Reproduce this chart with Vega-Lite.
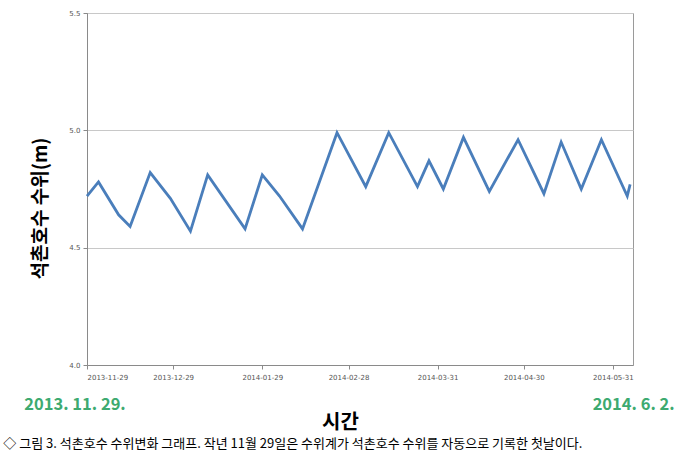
{
  "$schema": "https://vega.github.io/schema/vega-lite/v6.json",
  "width": 546,
  "height": 352,
  "autosize": "none",
  "padding": {"left": 87, "top": 13, "right": 47, "bottom": 94},
  "background": "white",
  "config": {
    "font": "Noto Sans CJK KR",
    "view": {"stroke": "#9a9a9a", "strokeWidth": 1}
  },
  "title": {
    "text": "◇ 그림 3. 석촌호수 수위변화 그래프. 작년 11월 29일은 수위계가 석촌호수 수위를 자동으로 기록한 첫날이다.",
    "orient": "bottom",
    "anchor": "start",
    "frame": "bounds",
    "fontSize": 13,
    "fontWeight": "normal",
    "color": "#000000",
    "font": "Noto Sans CJK KR",
    "offset": 6,
    "dx": -21
  },
  "layer": [
    {
      "data": {
        "values": [
          {"date": "2013-11-29", "level": 4.72},
          {"date": "2013-12-03", "level": 4.78},
          {"date": "2013-12-10", "level": 4.64},
          {"date": "2013-12-14", "level": 4.59},
          {"date": "2013-12-21", "level": 4.82},
          {"date": "2013-12-28", "level": 4.71},
          {"date": "2014-01-04", "level": 4.57},
          {"date": "2014-01-10", "level": 4.81},
          {"date": "2014-01-23", "level": 4.58},
          {"date": "2014-01-29", "level": 4.81},
          {"date": "2014-02-04", "level": 4.72},
          {"date": "2014-02-12", "level": 4.58},
          {"date": "2014-02-24", "level": 4.99},
          {"date": "2014-03-06", "level": 4.76},
          {"date": "2014-03-14", "level": 4.99},
          {"date": "2014-03-24", "level": 4.76},
          {"date": "2014-03-28", "level": 4.87},
          {"date": "2014-04-02", "level": 4.75},
          {"date": "2014-04-09", "level": 4.97},
          {"date": "2014-04-18", "level": 4.74},
          {"date": "2014-04-28", "level": 4.96},
          {"date": "2014-05-07", "level": 4.73},
          {"date": "2014-05-13", "level": 4.95},
          {"date": "2014-05-20", "level": 4.75},
          {"date": "2014-05-27", "level": 4.96},
          {"date": "2014-06-05", "level": 4.72},
          {"date": "2014-06-06", "level": 4.77}
        ]
      },
      "mark": {"type": "line", "color": "#4A7EBB", "strokeWidth": 2.8},
      "encoding": {
        "x": {
          "field": "date",
          "type": "temporal",
          "scale": {
            "type": "utc",
            "domain": [
              {"year": 2013, "month": 11, "date": 29, "utc": true},
              {"year": 2014, "month": 6, "date": 7, "utc": true}
            ]
          },
          "axis": {
            "values": [
              {"year": 2013, "month": 11, "date": 29, "utc": true},
              {"year": 2013, "month": 12, "date": 29, "utc": true},
              {"year": 2014, "month": 1, "date": 29, "utc": true},
              {"year": 2014, "month": 2, "date": 28, "utc": true},
              {"year": 2014, "month": 3, "date": 31, "utc": true},
              {"year": 2014, "month": 4, "date": 30, "utc": true},
              {"year": 2014, "month": 5, "date": 31, "utc": true}
            ],
            "labelExpr": "utcFormat(datum.value, '%Y-%m-%d')",
            "grid": false,
            "domainColor": "#8a8a8a",
            "tickColor": "#8a8a8a",
            "tickSize": 4,
            "labelFontSize": 7,
            "labelColor": "#555555",
            "labelPadding": 4,
            "labelFont": "DejaVu Sans",
            "title": "시간",
            "titleFontSize": 20,
            "titleFontWeight": "bold",
            "titleColor": "#000000",
            "titleX": 253,
            "titleY": 57,
            "titleAlign": "center",
            "titleBaseline": "middle"
          }
        },
        "y": {
          "field": "level",
          "type": "quantitative",
          "scale": {"domain": [4.0, 5.5], "zero": false, "nice": false},
          "axis": {
            "values": [4.0, 4.5, 5.0, 5.5],
            "format": ".1f",
            "grid": true,
            "gridColor": "#c8c8c8",
            "domainColor": "#8a8a8a",
            "tickColor": "#8a8a8a",
            "tickSize": 4,
            "labelFontSize": 7,
            "labelColor": "#555555",
            "labelPadding": 3,
            "labelFont": "DejaVu Sans",
            "title": "석촌호수 수위(m)",
            "titleFontSize": 19,
            "titleFontWeight": "bold",
            "titleColor": "#000000",
            "titleX": -37,
            "titleY": 195,
            "titleAlign": "center",
            "titleBaseline": "bottom",
            "titleAngle": -90
          }
        }
      }
    },
    {
      "data": {"values": [{"date": "2013-11-29", "label": "2013. 11. 29."}]},
      "mark": {"type": "text", "color": "#3DAA70", "fontSize": 16.5, "fontWeight": "bold", "font": "Noto Sans CJK KR", "align": "center", "baseline": "middle", "dx": -12},
      "encoding": {
        "x": {"field": "date", "type": "temporal"},
        "y": {"datum": 3.83},
        "text": {"field": "label"}
      }
    },
    {
      "data": {"values": [{"date": "2014-06-02", "label": "2014. 6. 2."}]},
      "mark": {"type": "text", "color": "#3DAA70", "fontSize": 16.5, "fontWeight": "bold", "font": "Noto Sans CJK KR", "align": "center", "baseline": "middle", "dx": 15},
      "encoding": {
        "x": {"field": "date", "type": "temporal"},
        "y": {"datum": 3.83},
        "text": {"field": "label"}
      }
    }
  ]
}
